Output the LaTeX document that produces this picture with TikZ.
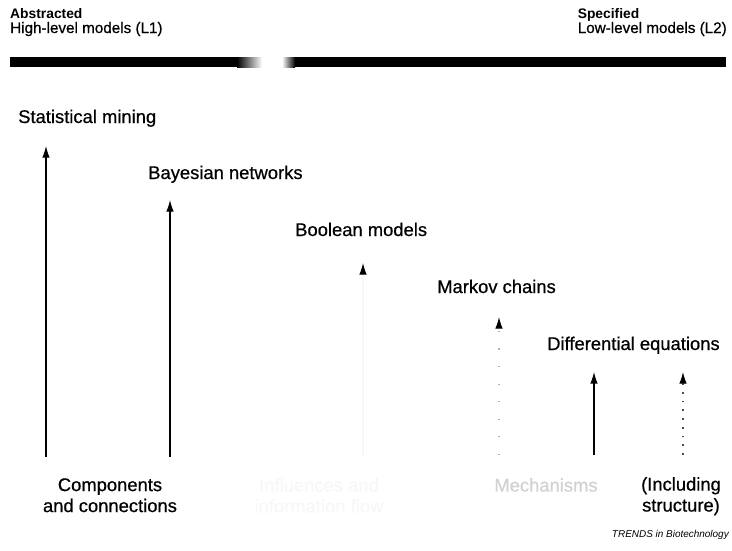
\documentclass[tikz,border=0pt]{standalone}
\usepackage{fontspec}
\setmainfont{Liberation Sans}
\newfontfamily\inkfont{Liberation Sans}[FakeBold=0.6]
\usetikzlibrary{arrows.meta}

\begin{document}
\begin{tikzpicture}[x=0.03cm,y=-0.03cm,
  every node/.style={inner sep=0pt,font=\inkfont\fontsize{15.7}{17.9}\selectfont},
  head/.style={anchor=base west,font=\fontsize{11.8}{14}\selectfont\bfseries},
  sub/.style={anchor=base west,font=\inkfont\fontsize{13}{15}\selectfont},
  model/.style={anchor=base west},
  level/.style={anchor=north,align=center},
  arrow/.style={-{Latex[length=10pt,width=6.5pt,color=black]},line width=1pt},
  faded/.style={arrow,draw=black!3},
  sparse/.style={arrow,draw=black!30,dash pattern=on 1pt off 14pt},
  dots/.style={arrow,draw=black!70,dash pattern=on 1.5pt off 6pt}
]
  \useasboundingbox (0,0) rectangle (732,550);
  % scale from abstracted to specified
  \node[head] (abs) at (10,18) {Abstracted};
  \node[sub] (l1) at (10,33) {High-level models (L1)};
  \node[sub,anchor=base east] (l2) at (727,33) {Low-level models (L2)};
  \node[head] (spec) at (l2.base west |- 0,18) {Specified};
  \fill[black] (10,57) rectangle (237,67);
  \shade[left color=black,right color=white] (237,57) rectangle (262,67);
  \shade[left color=white,right color=black] (282,57) rectangle (295,67);
  \fill[black] (295,57) rectangle (726,67);
  % model classes
  \node[model] (stat) at (18,123) {Statistical mining};
  \node[model] (bayes) at (148,179) {Bayesian networks};
  \node[model] (bool) at (295,236) {Boolean models};
  \node[model] (markov) at (437,293) {Markov chains};
  \node[model] (diff) at (547,350) {Differential equations};
  % levels of detail
  \node[level] (comp) at (110,478) {Components\\and connections};
  \node[level,text=black!3] (infl) at (319,478) {Influences and\\information flow};
  \node[level,text=black!18] (mech) at (546,478) {Mechanisms};
  \node[level] (struct) at (681,477) {(Including\\structure)};
  \node[anchor=base east,font=\fontsize{8.5}{10}\selectfont\itshape] (trends) at (729,537) {TRENDS in Biotechnology};
  % arrow ends
  \coordinate (a1) at (46,457);   \coordinate (b1) at (46,146);
  \coordinate (a2) at (170,457);  \coordinate (b2) at (170,200);
  \coordinate (a3) at (363,457);  \coordinate (b3) at (363,263);
  \coordinate (a4) at (499,455);  \coordinate (b4) at (499,317);
  \coordinate (a5) at (594,455);  \coordinate (b5) at (594,372);
  \coordinate (a6) at (683,455);  \coordinate (b6) at (683,372);
  \draw[arrow] (a1) -- (b1);
  \draw[arrow] (a2) -- (b2);
  \draw[faded] (a3) -- (b3);
  \draw[sparse] (a4) -- (b4);
  \draw[arrow] (a5) -- (b5);
  \draw[dots] (a6) -- (b6);
\end{tikzpicture}
\end{document}
